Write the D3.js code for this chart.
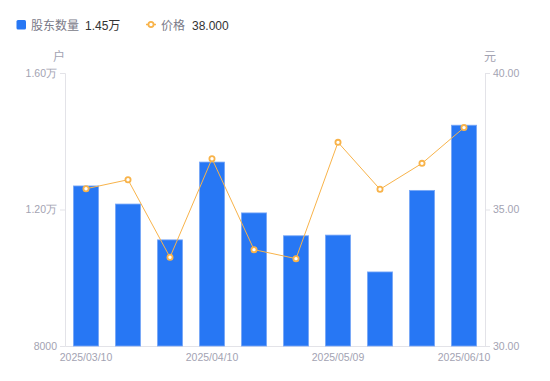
<!DOCTYPE html>
<html><head><meta charset="utf-8">
<script src="https://cdn.jsdelivr.net/npm/d3@7"></script>
<style>
html,body{margin:0;padding:0;background:#fff;}
svg{display:block;font-family:"Liberation Sans","Noto Sans CJK SC",Arial,sans-serif;}
</style></head>
<body><svg id="c" width="550" height="381"></svg>
<script>
const categories = ["2025/03/10","2025/03/20","2025/03/31","2025/04/10","2025/04/18","2025/04/30","2025/05/09","2025/05/20","2025/05/30","2025/06/10"];
const holders = [12690, 12160, 11110, 13390, 11900, 11230, 11250, 10170, 12560, 14470];
const prices = [35.76, 36.09, 33.25, 36.86, 33.53, 33.20, 37.46, 35.74, 36.69, 38.00];
const xTickLabels = ["2025/03/10","2025/04/10","2025/05/09","2025/06/10"];
const leftTicks = [8000, 12000, 16000];
const rightTicks = [30, 35, 40];
const legendHolders = "1.45万";
const legendPrice = "38.000";

const svg = d3.select("#c");
const L = 65, R = 485, T = 73, B = 346;
const x = d3.scaleBand().domain(categories).range([L, R]).paddingInner(0.4).paddingOuter(0.2);
const yL = d3.scaleLinear().domain([8000, 16000]).range([B, T]);
const yR = d3.scaleLinear().domain([30, 40]).range([B, T]);
const gray = "#a3a3b2", axisCol = "#e3e3e8";

function fmtL(v){ return v >= 10000 ? (v/10000).toFixed(2) + "万" : String(v); }

// left axis
const gl = svg.append("g").attr("transform", `translate(${L},0)`)
  .call(d3.axisLeft(yL).tickValues(leftTicks).tickFormat(fmtL).tickSize(5).tickPadding(3));
gl.select(".domain").attr("stroke", axisCol);
gl.selectAll(".tick line").attr("stroke", axisCol);
gl.selectAll("text").attr("fill", gray).style("font-size", "10.5px");

// right axis
const gr = svg.append("g").attr("transform", `translate(${R},0)`)
  .call(d3.axisRight(yR).tickValues(rightTicks).tickFormat(d3.format(".2f")).tickSize(5).tickPadding(3));
gr.select(".domain").attr("stroke", axisCol);
gr.selectAll(".tick line").attr("stroke", axisCol);
gr.selectAll("text").attr("fill", gray).style("font-size", "10.5px");

// bottom baseline + labels
const gb = svg.append("g").attr("transform", `translate(0,${B})`)
  .call(d3.axisBottom(x).tickValues(xTickLabels).tickSize(0).tickPadding(8));
gb.select(".domain").attr("stroke", axisCol);
gb.selectAll("text").attr("fill", gray).style("font-size", "10.5px");

// axis titles
svg.append("text").attr("x", 59).attr("y", 61).attr("text-anchor", "middle")
  .attr("fill", gray).style("font-size", "12px").text("户");
svg.append("text").attr("x", 490).attr("y", 61).attr("text-anchor", "middle")
  .attr("fill", gray).style("font-size", "12px").text("元");

// bars
svg.append("g").selectAll("rect").data(holders).join("rect")
  .attr("x", (d,i) => x(categories[i]))
  .attr("y", d => yL(d))
  .attr("width", x.bandwidth())
  .attr("height", d => B - yL(d))
  .attr("fill", "#2777f4")
  .attr("stroke", "#7aa8f7").attr("stroke-width", 0.8);

// line
const line = d3.line().x((d,i) => x(categories[i]) + x.bandwidth()/2).y(d => yR(d));
svg.append("path").datum(prices).attr("d", line)
  .attr("fill", "none").attr("stroke", "#f8b34a").attr("stroke-width", 1);
svg.append("g").selectAll("circle").data(prices).join("circle")
  .attr("cx", (d,i) => x(categories[i]) + x.bandwidth()/2)
  .attr("cy", d => yR(d)).attr("r", 2.6)
  .attr("fill", "#fff").attr("stroke", "#f8b34a").attr("stroke-width", 1.8);

// legend
const lg = svg.append("g");
lg.append("rect").attr("x", 16.5).attr("y", 20).attr("width", 9.5).attr("height", 9.5).attr("rx", 1.5).attr("fill", "#2777f4");
lg.append("text").attr("x", 31).attr("y", 29.5).attr("fill", "#7a7a88").style("font-size", "12px").text("股东数量");
lg.append("text").attr("x", 85).attr("y", 29.5).attr("fill", "#333").style("font-size", "12px").text(legendHolders);
lg.append("line").attr("x1", 146).attr("x2", 156).attr("y1", 24.5).attr("y2", 24.5).attr("stroke", "#f8b34a").attr("stroke-width", 1.5);
lg.append("circle").attr("cx", 151).attr("cy", 24.5).attr("r", 2.6).attr("fill", "#fff").attr("stroke", "#f8b34a").attr("stroke-width", 1.8);
lg.append("text").attr("x", 161).attr("y", 29.5).attr("fill", "#7a7a88").style("font-size", "12px").text("价格");
lg.append("text").attr("x", 192).attr("y", 29.5).attr("fill", "#333").style("font-size", "12px").text(legendPrice);
</script></body></html>
